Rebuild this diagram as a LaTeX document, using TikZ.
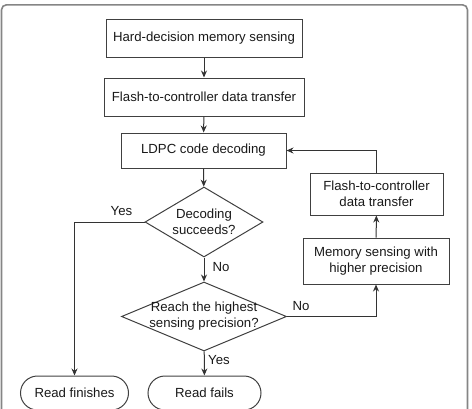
\documentclass[tikz,border=0pt]{standalone}
\usepackage{fontspec}
\setmainfont{Liberation Sans}
\usetikzlibrary{shapes.geometric,arrows.meta}
\begin{document}
\begin{tikzpicture}[x=1pt,y=-1pt,
  every node/.style={font=\fontsize{13.2}{16}\selectfont, text=black!90},
  box/.style={draw=black!75, line width=1pt, inner sep=0pt, align=center},
  dia/.style={draw=black!75, line width=1pt, diamond, inner sep=0pt},
  term/.style={draw=black!75, line width=1pt, rounded corners=17pt, inner sep=0pt, minimum height=34pt},
  lbl/.style={inner sep=0pt},
  arr/.style={draw=black!80, line width=1pt, -{Stealth[length=7pt,width=6pt]}}]
\useasboundingbox (0,0) rectangle (472,408);
\begin{scope}
\clip (0,0) rectangle (472,408);
\draw[draw=black!48, line width=1.6pt, rounded corners=5pt] (1.5,4.8) rectangle (467.5,430);

\node[box, minimum width=196pt, minimum height=38pt] (b1) at (204,38) {Hard-decision memory sensing};
\node[box, minimum width=200pt, minimum height=38pt] (b2) at (204,97) {Flash-to-controller data transfer};
\node[box, minimum width=165pt, minimum height=35pt] (b3) at (203.5,150.5) {LDPC code decoding};
\node[dia, minimum width=118pt, minimum height=70pt] (d1) at (204,222) {};
\node[lbl, align=center] (d1t) at (204,222) {Decoding\\succeeds?};
\node[dia, minimum width=165pt, minimum height=69pt] (d2) at (204,316.5) {};
\node[lbl, align=center] (d2t) at (204,316.5) {Reach the highest\\sensing precision?};
\node[box, minimum width=146pt, minimum height=46pt] (m) at (376,261) {Memory sensing with\\higher precision};
\node[box, minimum width=133pt, minimum height=42pt] (f) at (376.5,194) {Flash-to-controller\\data transfer};
\node[term, minimum width=108pt] (rf) at (74.5,393) {Read finishes};
\node[term, minimum width=113pt] (rl) at (204.5,393) {Read fails};

\draw[arr] (b1) -- (b2);
\draw[arr] (b2) -- (b3);
\draw[arr] (b3) -- (d1);
\draw[arr] (d1) -- (d2);
\draw[arr] (d2) -- (rl);
\draw[arr] (d1.west) -| (rf.north);
\draw[arr] (d2.east) -| (m.south);
\draw[arr] (m) -- (f);
\draw[arr] (f.north) |- (b3.east);

\node[lbl] (ly1) at (121.5,211.5) {Yes};
\node[lbl] (ln1) at (221,267) {No};
\node[lbl] (ln2) at (301,306.5) {No};
\node[lbl] (ly2) at (219,360.5) {Yes};
\end{scope}
\end{tikzpicture}
\end{document}
